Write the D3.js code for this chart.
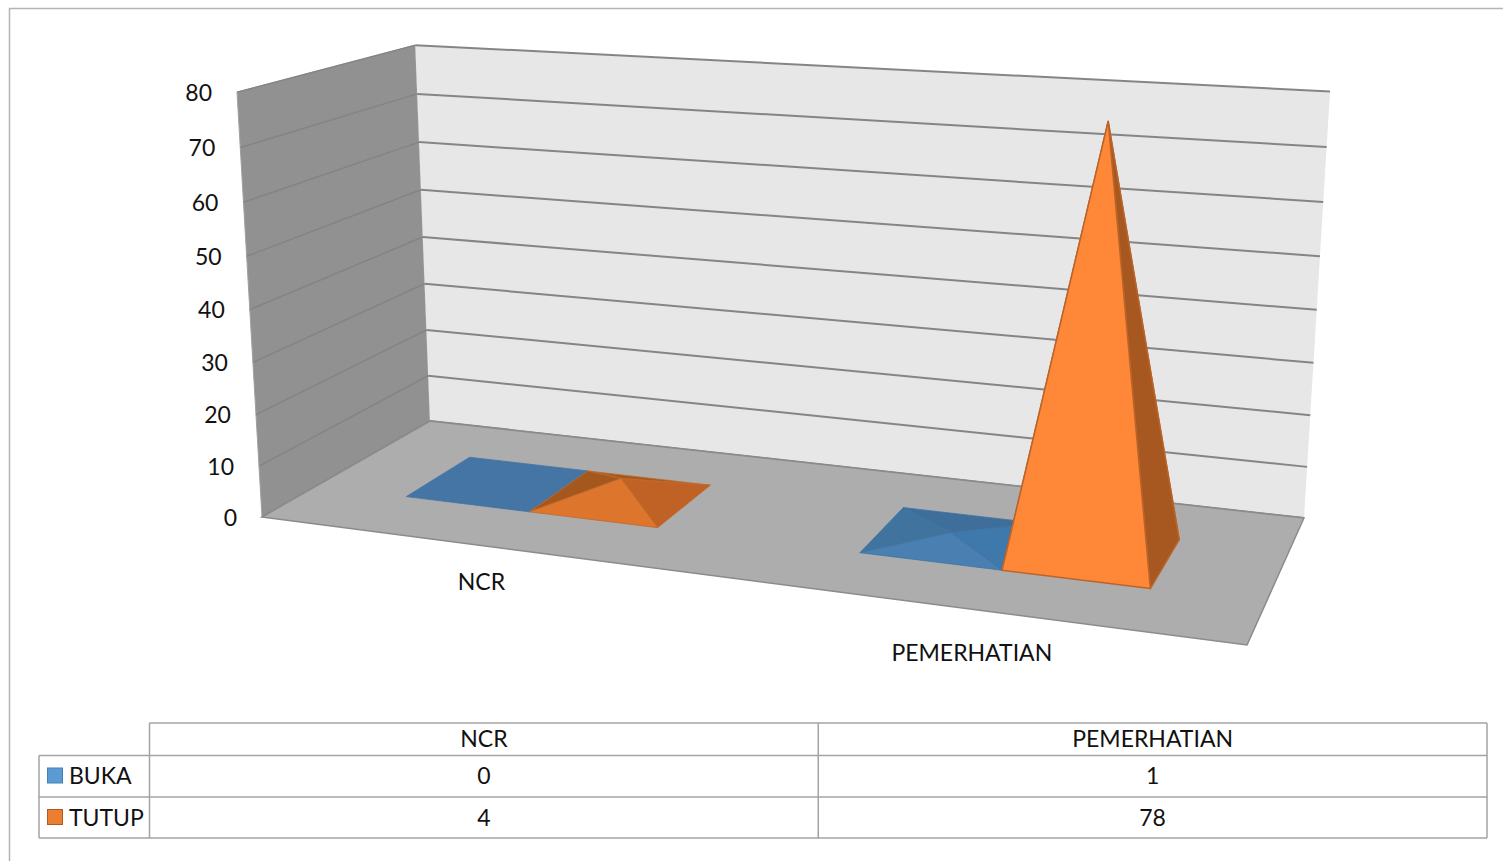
<!DOCTYPE html>
<meta charset="utf-8">
<style>
body { margin: 0; background: #fff; }
text { font-family: Lato, "Open Sans", sans-serif; font-size: 23px; fill: #111; }
.tbl line { stroke: #a3a3a3; stroke-width: 1.5px; }
</style>
<svg width="1503" height="861"></svg>
<script src="https://d3js.org/d3.v7.min.js"></script>
<script>

var categories = ["NCR", "PEMERHATIAN"];
var seriesNames = ["BUKA", "TUTUP"];
var bukaValues = [0, 1];
var tutupValues = [4, 78];
var tickValues = [0, 10, 20, 30, 40, 50, 60, 70, 80];

var values = [bukaValues, tutupValues];
var legendColors = [["#5b9bd5", "#4a7eb0"], ["#ed7d31", "#ae5a21"]];

// shading differs per point because the lighting follows the slope of the faces
var faceColors = [
  [{base: "#4475a5", edge: "#4475a5"},
   {back: "#3e6e99", left: "#40749f", right: "#3f78aa", front: "#4a80b1", edge: "#3f74a4"}],
  [{back: "#a5581e", left: "#a5581e", right: "#c06226", front: "#dd752d", edge: "#c0692b"},
   {back: "#a5581e", left: "#a5581e", right: "#a65820", front: "#fe8837", edge: "#bb642a"}]
];

var svg = d3.select("svg");

// the box of the chart as drawn: x along categories, y up, z into the page
var p000 = [262, 517], p100 = [1247, 645], p101 = [1304, 518], p001 = [430, 421];
var p010 = [237, 92.2], p111 = [1330, 92];

var dx1 = p100[0] - p101[0], dx2 = p001[0] - p101[0],
    dy1 = p100[1] - p101[1], dy2 = p001[1] - p101[1],
    sx = p000[0] - p100[0] + p101[0] - p001[0],
    sy = p000[1] - p100[1] + p101[1] - p001[1],
    det = dx1 * dy2 - dx2 * dy1,
    g = (sx * dy2 - dx2 * sy) / det,
    h = (dx1 * sy - sx * dy1) / det;

var colX = [p100[0] * (1 + g) - p000[0], p100[1] * (1 + g) - p000[1], g],
    colZ = [p001[0] * (1 + h) - p000[0], p001[1] * (1 + h) - p000[1], h],
    colO = [p000[0], p000[1], 1];

// vertical column from the two upper corners, sharing the w term
var wY = (p111[0] * (1 + g + h) - colX[0] - colZ[0] - p010[0]) / (p010[0] - p111[0]);
var colY = [p010[0] * (1 + wY) - p000[0], p010[1] * (1 + wY) - p000[1], wY];

function project(x, y, z) {
  var w = colX[2] * x + colY[2] * y + colZ[2] * z + 1;
  return [
    (colX[0] * x + colY[0] * y + colZ[0] * z + colO[0]) / w,
    (colX[1] * x + colY[1] * y + colZ[1] * z + colO[1]) / w
  ];
}

var y = d3.scaleLinear().domain([0, 80]).range([0, 1]);

// gap width of 150%: two bars and one and a half bars of gap per category
var x0 = d3.scaleBand().domain(categories).range([0, 1]).paddingInner(1.5 / 3.5).paddingOuter(0.75 / 3.5);
var x1 = d3.scaleBand().domain(seriesNames).range([0, x0.bandwidth()]);
var z = d3.scaleBand().domain(["depth"]).range([0, 1]).paddingOuter(0.75);

var path = function(pts) { return "M" + pts.map(function(p) { return p.join(","); }).join("L") + "Z"; };

// outer frame of the pasted chart
svg.append("path")
    .attr("d", "M1503,8.5H9.5V861")
    .attr("fill", "none")
    .attr("stroke", "#b4b4b4")
    .attr("stroke-width", 1.5);

// walls
svg.append("path")
    .attr("d", path([project(0, 0, 0), project(0, 1, 0), project(0, 1, 1), project(0, 0, 1)]))
    .attr("fill", "#919191")
    .attr("stroke", "#a0a0a0");

svg.append("path")
    .attr("d", path([project(0, 0, 1), project(0, 1, 1), project(1, 1, 1), project(1, 0, 1)]))
    .attr("fill", "#e7e7e7");

// gridlines
var grid = svg.append("g").attr("fill", "none");

grid.selectAll(".side")
  .data(tickValues)
  .enter().append("path")
    .attr("d", function(d) { return d3.line()([project(0, y(d), 0), project(0, y(d), 1)]); })
    .attr("stroke", "#848484")
    .attr("stroke-width", 1.5);

grid.selectAll(".back")
  .data(tickValues)
  .enter().append("path")
    .attr("d", function(d) { return d3.line()([project(0, y(d), 1), project(1, y(d), 1)]); })
    .attr("stroke", "#858585")
    .attr("stroke-width", 2);

// floor
svg.append("path")
    .attr("d", path([project(0, 0, 0), project(1, 0, 0), project(1, 0, 1), project(0, 0, 1)]))
    .attr("fill", "#adadad")
    .attr("stroke", "#8b8b8b")
    .attr("stroke-width", 1.5);

// pyramids
var zFront = z("depth"), zBack = zFront + z.bandwidth();

seriesNames.forEach(function(name, s) {
  categories.forEach(function(cat, c) {
    var left = x0(cat) + x1(name),
        right = left + x1.bandwidth(),
        v = values[s][c],
        colors = faceColors[s][c],
        fl = project(left, 0, zFront),
        fr = project(right, 0, zFront),
        br = project(right, 0, zBack),
        bl = project(left, 0, zBack),
        apex = project((left + right) / 2, y(v), (zFront + zBack) / 2);

    var g = svg.append("g").attr("class", "pyramid");

    if (v === 0) {
      g.append("path")
          .attr("d", path([fl, fr, br, bl]))
          .attr("fill", colors.base)
          .attr("stroke", colors.edge)
          .attr("stroke-width", 0.8);
      return;
    }

    var faces = [
      {key: "back", pts: [bl, br, apex]},
      {key: "left", pts: [fl, bl, apex]},
      {key: "right", pts: [fr, br, apex]},
      {key: "front", pts: [fl, fr, apex]}
    ];

    g.selectAll("path")
      .data(faces)
      .enter().append("path")
        .attr("d", function(d) { return path(d.pts); })
        .attr("fill", function(d) { return colors[d.key]; })
        .attr("stroke", colors.edge)
        .attr("stroke-width", v > 10 ? 1.5 : 0.8)
        .attr("stroke-linejoin", "round");
  });
});

// value labels sit left of the front edge of the side wall
svg.append("g")
    .attr("text-anchor", "end")
  .selectAll("text")
  .data(tickValues)
  .enter().append("text")
    .attr("x", function(d) { return project(0, y(d), 0)[0] - 25; })
    .attr("y", function(d) { return project(0, y(d), 0)[1] + 0.5; })
    .attr("dy", "0.35em")
    .text(function(d) { return d; });

// category labels below the floor
svg.append("g")
    .attr("text-anchor", "middle")
  .selectAll("text")
  .data(categories)
  .enter().append("text")
    .attr("x", function(d) { return project(x0(d) + x0.bandwidth() / 2, 0, 0)[0]; })
    .attr("y", function(d, i) { return project(x0(d) + x0.bandwidth() / 2, 0, 0)[1] + 36 + 8 * i; })
    .attr("dy", "0.35em")
    .text(function(d) { return d; });

// data table
var colScale = d3.scaleBand().domain(categories).range([149.5, 1487]);
var rowScale = d3.scaleOrdinal().domain(seriesNames).range([776, 817.5]);

var tbl = svg.append("g").attr("class", "tbl");
var hLines = [[149.5, 723], [39, 755.5], [39, 797], [39, 838]];
hLines.forEach(function(d) {
  tbl.append("line").attr("x1", d[0]).attr("x2", 1487).attr("y1", d[1]).attr("y2", d[1]);
});
tbl.append("line").attr("x1", 39).attr("x2", 39).attr("y1", 755.5).attr("y2", 838);
[149.5, colScale(categories[1]), 1487].forEach(function(d) {
  tbl.append("line").attr("x1", d).attr("x2", d).attr("y1", 723).attr("y2", 838);
});

svg.append("g")
    .attr("text-anchor", "middle")
  .selectAll("text")
  .data(categories)
  .enter().append("text")
    .attr("x", function(d) { return colScale(d) + colScale.bandwidth() / 2; })
    .attr("y", 739)
    .attr("dy", "0.35em")
    .text(function(d) { return d; });

seriesNames.forEach(function(name, s) {
  svg.append("rect")
      .attr("x", 47.5)
      .attr("y", rowScale(name) - 8)
      .attr("width", 15)
      .attr("height", 15)
      .attr("fill", legendColors[s][0])
      .attr("stroke", legendColors[s][1]);

  svg.append("text")
      .attr("x", 69)
      .attr("y", rowScale(name))
      .attr("dy", "0.35em")
      .text(name);

  svg.append("g")
      .attr("text-anchor", "middle")
    .selectAll("text")
    .data(values[s])
    .enter().append("text")
      .attr("x", function(d, i) { return colScale(categories[i]) + colScale.bandwidth() / 2; })
      .attr("y", rowScale(name))
      .attr("dy", "0.35em")
      .text(function(d) { return d; });
});

</script>
